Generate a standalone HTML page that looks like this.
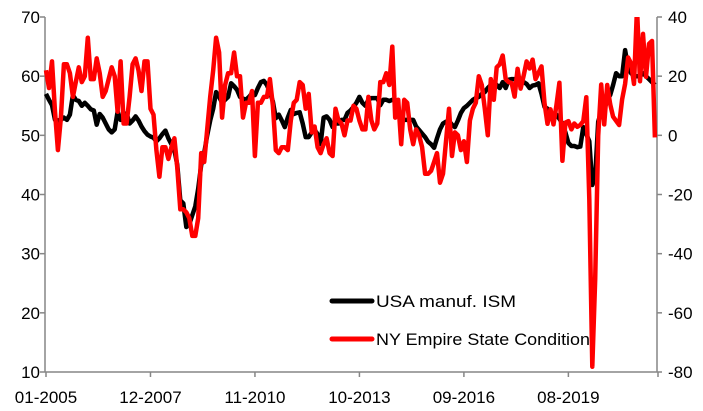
<!DOCTYPE html>
<html><head><meta charset="utf-8"><style>
html,body{margin:0;padding:0;background:#fff;}
svg{display:block;font-family:"Liberation Sans",sans-serif;}
</style></head><body>
<svg id="chart" width="703" height="411" viewBox="0 0 703 411" xmlns="http://www.w3.org/2000/svg">
<defs><clipPath id="plotclip"><rect x="40" y="17" width="618" height="360"/></clipPath></defs>
<g id="axes"></g>
<g id="series" clip-path="url(#plotclip)"></g>
<g id="legend">
  <line x1="332" y1="301" x2="372" y2="301" stroke="#000" stroke-width="5" stroke-linecap="round"/>
  <text x="376" y="307" font-size="17" textLength="140" lengthAdjust="spacingAndGlyphs">USA manuf. ISM</text>
  <line x1="332" y1="339" x2="372" y2="339" stroke="#ff0000" stroke-width="5" stroke-linecap="round"/>
  <text x="376" y="345" font-size="17" textLength="214" lengthAdjust="spacingAndGlyphs">NY Empire State Condition</text>
</g>
</svg>
<script>
const xTickLabels = ["01-2005","12-2007","11-2010","10-2013","09-2016","08-2019"];
const leftTicks = [10,20,30,40,50,60,70];
const rightTicks = [-80,-60,-40,-20,0,20,40];
const ismValues = [
57,56,55.1,52.6,52.5,52.6,53,52.6,53.5,56.8,56,55.8,
55,55.5,55,54.4,54.2,51.8,53.6,53,52,51,50.5,51,
54,52.6,53,53.7,52,52.5,53.2,52.5,51.5,50.7,50.1,49.8,
49.6,49,49.5,50.2,50.8,49.5,48.5,47.5,45,39,38.5,34.5,
35,36.5,38,41,45,47,50,52.5,54.5,57.3,56.5,55.5,
56,56.5,58.8,58.3,57.7,56.5,56.2,56,56.5,57.1,56.8,58,
59,59.2,58.5,57.3,55.7,52.9,53.5,52.5,51.4,53,54.3,53.6,
53.8,53.9,52,49.7,49.7,50.5,50.9,50.2,48.5,53,53.2,52.6,
51.4,52,52,52.6,52.6,53.8,54.2,54.8,55.5,56.5,55.5,55,
56,56.3,56.3,56.3,55.1,56,56,55.8,56,56,53.5,53,
52.6,52.6,52.6,52.6,51.5,50.9,50.3,49.7,48.9,48.5,47.9,49.5,
51,52,52.3,52.4,51.8,51.4,52.5,53.8,54.6,55,55.5,56,
56.3,56.5,57,57.3,58,58.5,59,58.5,58,59,58,59.4,
59.5,59.5,59.3,59,59,58.7,58,58.4,58.5,58.8,57,54.8,
54.5,53,53.2,53.5,52.8,52,50.5,48.7,48.2,48.2,48,48.1,
51.4,50.2,49,41.6,43,52.3,54,54.3,56,56.8,58.5,60.5,
60,60,64.4,61.5,60.5,60,60,60,60.5,60,59.5,59,58.5];
const empireValues = [
22,16,25,8,-5,6,24,24,21,13,18,23,
18,20,33,19,19,26,21,13,15,19,23,20,
8,25,4,4,13,24,26,22,15,25,25,9,
7,-5,-14,-4,-4,-8,-4,-1,-11,-25,-25,-26,
-28,-34,-34,-28,-6,-9,2,13,22,33,28,6,
17,21,21,28,20,20,6,11,11,15,-7,11,
11,13,13,19,10,-5,-6,-4,-4,-5,5,11,
12,18,17,9,14,1,3,-4,-6,-3,-1,-6,
-7,9,5,4,0,5,5,10,9,5,2,2,
13,5,2,4,18,18,21,17,30,6,12,-3,
12,11,2,-3,2,0,-4,-13,-13,-12,-9,-6,
-16,-13,-2,9,-7,1,0,-5,-2,-9,5,9,
11,20,17,9,0,19,12,23,24,27,19,18,
17.7,13.1,22.5,15.8,20.1,25,22.6,25.6,19,21.1,23.3,10.9,
3.9,8.8,3.7,10.1,17.8,-8.6,4.3,4.8,2,4,2.9,3.5,
4.8,12.9,-21.5,-78.2,-48.5,-0.2,17.2,3.7,17,10.5,6.3,4.9,
3.5,12.1,17.4,26.3,24.3,17.4,43,18.3,34.3,19.8,30.9,31.9,-0.7];

const NS = "http://www.w3.org/2000/svg";
const X0 = 46, XSTEP = 2.985, TOP = 17, BOT = 372, LEFTX = 45, RIGHTX = 657;
function xScale(i){ return X0 + i * XSTEP; }
function yLeft(v){ return TOP + (70 - v) * (BOT - TOP) / 60; }
function yRight(v){ return TOP + (40 - v) * (BOT - TOP) / 120; }
function mk(tag, attrs, parent){ const e=document.createElementNS(NS,tag); for(const k in attrs) e.setAttribute(k,attrs[k]); parent.appendChild(e); return e; }

const axes = document.getElementById('axes');
const grey = "#868686";
let e;
e = mk('line',{x1:LEFTX,y1:TOP,x2:LEFTX,y2:BOT,stroke:grey,'stroke-width':1.5},axes);


e = mk('line',{x1:RIGHTX,y1:TOP,x2:RIGHTX,y2:BOT,stroke:grey,'stroke-width':1.5},axes);


e = mk('line',{x1:LEFTX,y1:BOT,x2:RIGHTX,y2:BOT,stroke:grey,'stroke-width':1.5},axes);



leftTicks.forEach(v=>{
  const y=yLeft(v);
  mk('line',{x1:LEFTX-5,y1:y,x2:LEFTX,y2:y,stroke:grey,'stroke-width':1.5},axes);
  const t=mk('text',{x:LEFTX-5,y:y+6,'font-size':17,'text-anchor':'end',fill:'#000'},axes);
  t.textContent=v;
  
  
});
rightTicks.forEach(v=>{
  const y=yRight(v);
  mk('line',{x1:RIGHTX,y1:y,x2:RIGHTX+5,y2:y,stroke:grey,'stroke-width':1.5},axes);
  const t=mk('text',{x:RIGHTX+11,y:y+6,'font-size':17,'text-anchor':'start',fill:'#000'},axes);
  t.textContent=v;
  
  
});
xTickLabels.forEach((lab,k)=>{
  const x=xScale(k*35);
  mk('line',{x1:x,y1:BOT,x2:x,y2:BOT+5,stroke:grey,'stroke-width':1.5},axes);
  const t=mk('text',{x:x,y:403,'font-size':17,'text-anchor':'middle',fill:'#000'},axes);
  t.textContent=lab;
  
  
});
mk('line',{x1:RIGHTX+1,y1:BOT,x2:RIGHTX+1,y2:BOT+5,stroke:grey,'stroke-width':1.5},axes);

const series = document.getElementById('series');
const ismPts = ismValues.map((v,i)=>xScale(i).toFixed(1)+","+yLeft(v).toFixed(1)).join(" ");
const ismLine = mk('polyline',{points:ismPts,fill:'none',stroke:'#000','stroke-width':4.5,'stroke-linejoin':'round'},series);


const empPts = empireValues.map((v,i)=>xScale(i).toFixed(1)+","+yRight(v).toFixed(1)).join(" ");
const empLine = mk('polyline',{points:empPts,fill:'none',stroke:'#ff0000','stroke-width':4.5,'stroke-linejoin':'round'},series);


</script>
</body></html>
